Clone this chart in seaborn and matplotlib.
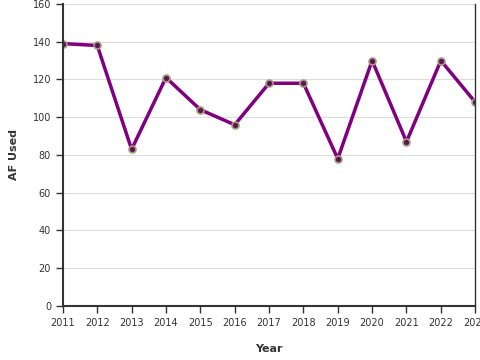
import matplotlib
matplotlib.use("Agg")
import matplotlib.pyplot as plt
import seaborn as sns
import pandas as pd

years = [2011, 2012, 2013, 2014, 2015, 2016, 2017, 2018, 2019, 2020, 2021, 2022, 2023]
af_used = [139, 138, 83, 121, 104, 96, 118, 118, 78, 130, 87, 130, 108]

df = pd.DataFrame({"Year": years, "AF Used": af_used})

sns.set_style("white")
plt.rcParams['font.family'] = ['DejaVu Sans']

fig = plt.figure(figsize=(4.8, 3.6), dpi=100)
ax = fig.add_axes([0.131, 0.15, 0.859, 0.839])

sns.lineplot(data=df, x="Year", y="AF Used", ax=ax, color="#800080", linewidth=2.5,
             marker="o", markersize=5, markerfacecolor="#5a1650",
             markeredgecolor="#a89a80", markeredgewidth=1.2)

ax.set_xlim(2011, 2023)
ax.set_ylim(0, 160)
ax.set_xticks(years)
ax.set_yticks(range(0, 161, 20))
ax.yaxis.grid(True, color="#dddddd", linewidth=0.8)
ax.set_axisbelow(True)
ax.tick_params(axis="both", labelsize=7, length=5, width=1, color="#333333",
               labelcolor="#333333", direction="out", bottom=True, left=True)
for side in ["left", "bottom"]:
    ax.spines[side].set_color("#333333")
    ax.spines[side].set_linewidth(1.5)
ax.spines["right"].set_color("#333333")
ax.spines["right"].set_linewidth(1.0)
ax.spines["top"].set_visible(False)

ax.set_xlabel("Year", fontsize=8, fontweight="bold", color="#333333", labelpad=12)
ax.set_ylabel("AF Used", fontsize=8, fontweight="bold", color="#333333", labelpad=10)

fig.savefig("out.png", dpi=100)
